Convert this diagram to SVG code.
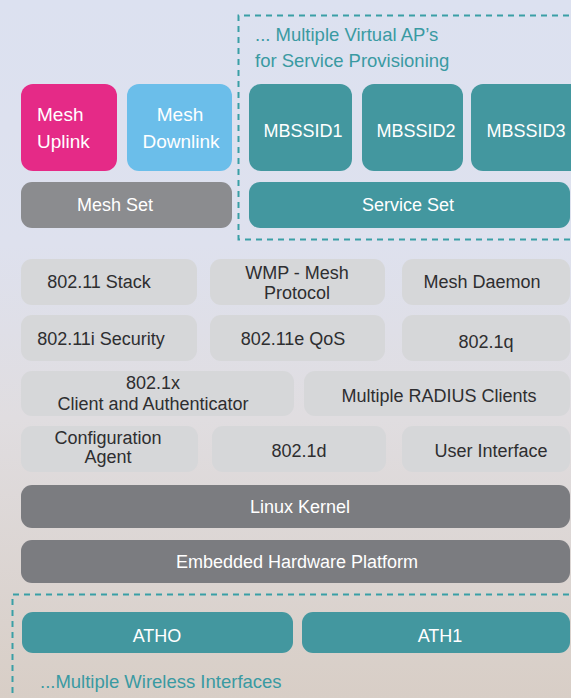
<svg xmlns="http://www.w3.org/2000/svg" width="571" height="698" viewBox="0 0 571 698">
  <defs>
    <linearGradient id="bg" x1="0" y1="0" x2="0" y2="1">
      <stop offset="0" stop-color="#DCE1F0"/>
      <stop offset="0.35" stop-color="#DEE1EE"/>
      <stop offset="0.6" stop-color="#E0DDE0"/>
      <stop offset="1" stop-color="#D8CEC6"/>
    </linearGradient>
  </defs>
  <style>
    text { font-family: "Liberation Sans", Arial, sans-serif; font-size: 18px; text-anchor: middle; }
    .w { fill: #FFFFFF; }
    .d { fill: #2E2E30; }
    .lbl { fill: #3A9AA2; text-anchor: start; font-size: 18.5px; }
    .lite { fill: #D6D7D9; }
    .teal { fill: #43979F; }
    .dash { fill: none; stroke: #3A9FA6; stroke-width: 2; stroke-dasharray: 6 5; }
  </style>
  <rect x="0" y="0" width="571" height="698" fill="url(#bg)"/>

  <g id="connectors">
    <path class="dash" d="M 580 15.5 H 238.5 V 239.5 H 580"/>
    <path class="dash" d="M 580 594.5 H 12.5 V 710"/>
  </g>

  <g id="mesh-uplink">
    <rect x="21" y="84" width="96" height="87" rx="12" fill="#E52A87"/>
    <text class="w" x="37" y="121" style="text-anchor:start;font-size:19px">Mesh</text>
    <text class="w" x="37" y="148" style="text-anchor:start;font-size:19px">Uplink</text>
  </g>
  <g id="mesh-downlink">
    <rect x="127" y="84" width="105" height="87" rx="12" fill="#6BBEEA"/>
    <text class="w" x="180" y="121" style="font-size:19px">Mesh</text>
    <text class="w" x="181" y="148" style="font-size:19px">Downlink</text>
  </g>
  <g id="mesh-set">
    <rect x="21" y="182" width="211" height="46" rx="11" fill="#8B8C8F"/>
    <text class="w" x="115" y="211">Mesh Set</text>
  </g>

  <g id="vap-label">
    <text class="lbl" x="255" y="41">... Multiple Virtual AP’s</text>
    <text class="lbl" x="255" y="67">for Service Provisioning</text>
  </g>
  <g id="mbssid1">
    <rect x="249" y="84" width="103" height="87" rx="12" class="teal"/>
    <text class="w" x="303" y="137">MBSSID1</text>
  </g>
  <g id="mbssid2">
    <rect x="362" y="84" width="101" height="87" rx="12" class="teal"/>
    <text class="w" x="416" y="137">MBSSID2</text>
  </g>
  <g id="mbssid3">
    <rect x="471" y="84" width="112" height="87" rx="12" class="teal"/>
    <text class="w" x="526" y="137">MBSSID3</text>
  </g>
  <g id="service-set">
    <rect x="249" y="182" width="321" height="46" rx="11" class="teal"/>
    <text class="w" x="408" y="211">Service Set</text>
  </g>

  <g id="stack-80211">
    <rect x="21" y="259" width="176" height="46" rx="11" class="lite"/>
    <text class="d" x="99" y="288">802.11 Stack</text>
  </g>
  <g id="wmp">
    <rect x="210" y="259" width="175" height="46" rx="11" class="lite"/>
    <text class="d" x="297" y="279">WMP - Mesh</text>
    <text class="d" x="297" y="299">Protocol</text>
  </g>
  <g id="mesh-daemon">
    <rect x="402" y="259" width="168" height="46" rx="11" class="lite"/>
    <text class="d" x="482" y="288">Mesh Daemon</text>
  </g>

  <g id="security">
    <rect x="21" y="315" width="176" height="46" rx="11" class="lite"/>
    <text class="d" x="101" y="345">802.11i Security</text>
  </g>
  <g id="qos">
    <rect x="210" y="315" width="175" height="46" rx="11" class="lite"/>
    <text class="d" x="293" y="345">802.11e QoS</text>
  </g>
  <g id="vlan">
    <rect x="402" y="315" width="168" height="46" rx="11" class="lite"/>
    <text class="d" x="486" y="348">802.1q</text>
  </g>

  <g id="dot1x">
    <rect x="21" y="371" width="273" height="45" rx="11" class="lite"/>
    <text class="d" x="153" y="389">802.1x</text>
    <text class="d" x="153" y="410">Client and Authenticator</text>
  </g>
  <g id="radius">
    <rect x="304" y="371" width="266" height="45" rx="11" class="lite"/>
    <text class="d" x="439" y="402">Multiple RADIUS Clients</text>
  </g>

  <g id="config-agent">
    <rect x="21" y="426" width="177" height="46" rx="11" class="lite"/>
    <text class="d" x="108" y="444">Configuration</text>
    <text class="d" x="108" y="463">Agent</text>
  </g>
  <g id="dot1d">
    <rect x="212" y="426" width="174" height="46" rx="11" class="lite"/>
    <text class="d" x="299" y="457">802.1d</text>
  </g>
  <g id="user-interface">
    <rect x="402" y="426" width="168" height="46" rx="11" class="lite"/>
    <text class="d" x="491" y="457">User Interface</text>
  </g>

  <g id="linux-kernel">
    <rect x="21" y="485" width="549" height="43" rx="11" fill="#7B7C80"/>
    <text class="w" x="300" y="513">Linux Kernel</text>
  </g>
  <g id="hardware">
    <rect x="21" y="540" width="549" height="43" rx="11" fill="#7B7C80"/>
    <text class="w" x="297" y="568">Embedded Hardware Platform</text>
  </g>

  <g id="ath0">
    <rect x="22" y="612" width="271" height="41" rx="11" class="teal"/>
    <text class="w" x="157" y="642">ATHO</text>
  </g>
  <g id="ath1">
    <rect x="302" y="612" width="268" height="41" rx="11" class="teal"/>
    <text class="w" x="440" y="642">ATH1</text>
  </g>
  <g id="wireless-label">
    <text class="lbl" x="40" y="688">...Multiple Wireless Interfaces</text>
  </g>
</svg>
